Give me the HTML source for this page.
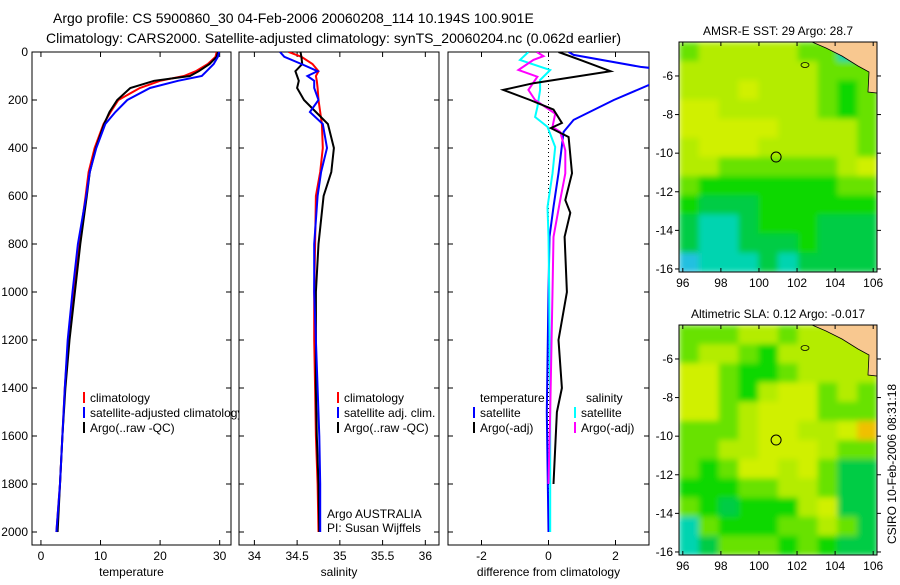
<!DOCTYPE html>
<html><head><meta charset="utf-8"><style>
body{margin:0;background:#fff;width:900px;height:580px;overflow:hidden;font-family:"Liberation Sans",sans-serif}
svg text{font-family:"Liberation Sans",sans-serif}
</style></head><body>
<svg id="s" width="900" height="580" viewBox="0 0 900 580" xmlns="http://www.w3.org/2000/svg">
<defs><filter id="bl" x="0" y="0" width="1" height="1"><feGaussianBlur stdDeviation="3"/></filter>
<clipPath id="mc1"><rect x="679" y="42" width="198" height="230"/></clipPath>
<clipPath id="mc2"><rect x="679" y="325" width="198" height="230"/></clipPath></defs>
<text x="53" y="23" font-size="14">Argo profile: CS 5900860_30 04-Feb-2006 20060208_114 10.194S 100.901E</text>
<text x="46" y="43" font-size="14">Climatology: CARS2000. Satellite-adjusted climatology: synTS_20060204.nc (0.062d earlier)</text>
<g id="g"></g>
</svg>
<script>
const depths=[0,20,50,80,100,120,150,200,250,300,400,500,600,800,1000,1200,1400,1600,1800,2000];
const tempClim=[29.5,29.3,28.0,26,24,20,16.6,13,11.7,10.5,9,8,7.5,6.4,5.5,4.6,4,3.6,3.2,2.6];
const tempArgo=[29.7,29.5,28.3,26.5,25,19,15,12.8,11.5,10.6,9.2,8.2,7.7,6.6,5.7,4.8,4.1,3.6,3.2,2.8];
const tempSat=[29.9,29.7,29,27.8,27,23,18.3,14.5,12.5,10.8,9.3,8.2,7.6,6.2,5.3,4.5,4,3.6,3.2,2.6];
const salClim=[34.40,34.55,34.68,34.75,34.72,34.73,34.74,34.75,34.77,34.79,34.80,34.77,34.72,34.71,34.70,34.70,34.71,34.72,34.74,34.75];
const salArgo=[34.54,34.55,34.56,34.48,34.5,34.52,34.50,34.58,34.72,34.86,34.93,34.90,34.81,34.75,34.72,34.72,34.72,34.73,34.75,34.76];
const salSat=[34.30,34.35,34.55,34.74,34.62,34.70,34.70,34.75,34.65,34.80,34.85,34.78,34.74,34.70,34.70,34.72,34.74,34.76,34.77,34.77];
const dTArgoDepth=[0,33,80,130,158,200,240,296,317,354,505,617,670,770,1000,1200,1400,1500,1800];
const dTArgo=[0.3,0.95,1.85,-0.45,-1.35,-0.55,0.15,0.4,0.07,0.6,0.7,0.5,0.65,0.48,0.55,0.3,0.4,0.25,0.15];
const dTSatDepth=[0,12,62,75,120,137,200,283,333,505,645,770,1000,1500,2000];
const dTSat=[0.6,0.75,2.75,3.6,3.6,3.0,1.95,0.75,0.45,0.3,0.15,0.03,0.0,-0.05,0.0];
const dSSatDepth=[0,33,75,117,158,229,271,312,396,506,646,771,1000,1500,2000];
const dSSat=[-0.6,-0.85,0.05,-0.25,-0.25,-0.33,-0.4,-0.03,0.2,0.12,-0.03,0.0,0.02,0.05,0.05];
const dSArgoDepth=[0,17,33,75,103,158,200,257,312,333,410,506,617,771,1000,1500,1800];
const dSArgo=[-0.35,-0.15,-0.45,-0.9,-0.33,-0.6,-0.4,0.2,0.12,0.35,0.5,0.5,0.35,0.15,0.12,0.05,0.0];
const depthTicks=[0,200,400,600,800,1000,1200,1400,1600,1800,2000];
const tempTicks=[0,10,20,30];
const salTicks=[34,34.5,35,35.5,36];
const diffTicks=[-2,0,2];
const lonTicks=[96,98,100,102,104,106];
const latTicks=[-6,-8,-10,-12,-14,-16];
const floatLon=100.9, floatLat=-10.2;

const NS="http://www.w3.org/2000/svg";
const G=document.getElementById('g');
function el(t,a,p){const e=document.createElementNS(NS,t);for(const k in a)e.setAttribute(k,a[k]);(p||G).appendChild(e);return e;}
const Y0=52,Ybot=545;
const yD=d=>Y0+d*0.24;
function panel(name,x0,x1,xmin,xmax,ticks,label){
  const sx=v=>x0+(v-xmin)/(xmax-xmin)*(x1-x0);
  const g=el('g',{});
  
  
  el('rect',{x:x0,y:Y0,width:x1-x0,height:Ybot-Y0,fill:'#fff',stroke:'#000','stroke-width':1},g);
  ticks.forEach(t=>{const x=sx(t);
    el('line',{x1:x,x2:x,y1:Y0,y2:Y0+5,stroke:'#000'},g);
    el('line',{x1:x,x2:x,y1:Ybot,y2:Ybot-5,stroke:'#000'},g);
    const tx=el('text',{x:x,y:Ybot+15,'font-size':12,'text-anchor':'middle'},g);tx.textContent=String(t);
    
    
  });
  depthTicks.forEach(d=>{const y=yD(d);
    el('line',{x1:x0,x2:x0+5,y1:y,y2:y,stroke:'#000'},g);
    el('line',{x1:x1,x2:x1-5,y1:y,y2:y,stroke:'#000'},g);
  });
  const lb=el('text',{x:(x0+x1)/2,y:576,'font-size':12,'text-anchor':'middle'},g);lb.textContent=label;
  
  
  return {sx,g,x0,x1};
}
function line(P,ds,vs,color,name,w){
  const pts=ds.map((d,i)=>P.sx(vs[i]).toFixed(1)+','+yD(d).toFixed(1)).join(' ');
  const l=el('polyline',{points:pts,fill:'none',stroke:color,'stroke-width':w||2,'clip-path':'url(#'+P.clip+')'},P.g);
  
  
}
function clip(id,x0,x1){const defs=el('defs',{});const c=el('clipPath',{id:id},defs);el('rect',{x:x0,y:Y0,width:x1-x0,height:Ybot-Y0},c);}
function txt(x,y,s,name,size,anchor,parent){const t=el('text',{x:x,y:y,'font-size':size||12,'text-anchor':anchor||'start'},parent);t.textContent=s;
  
  return t;}
function leg(x,y,color,s,name){el('rect',{x:x,y:y-10,width:2,height:11,fill:color});txt(x+7,y,s,name);}

depthTicks.forEach(d=>txt(28,yD(d)+4,String(d),'y-tick-label',12,'end'));

const P1=panel('temperature-panel',32,231,-1.5,31.9,tempTicks,'temperature');P1.clip='c1';clip('c1',32,231);
line(P1,depths,tempClim,'#f00','temp-climatology-line');
line(P1,depths,tempArgo,'#000','temp-argo-line');
line(P1,depths,tempSat,'#00f','temp-satellite-line');
leg(83,402,'#f00','climatology','legend-climatology');
leg(83,417,'#00f','satellite-adjusted climatology','legend-satellite');
leg(83,432,'#000','Argo(..raw -QC)','legend-argo');

const P2=panel('salinity-panel',239,439,33.82,36.16,salTicks,'salinity');P2.clip='c2';clip('c2',239,439);
line(P2,depths,salClim,'#f00','sal-climatology-line');
line(P2,depths,salArgo,'#000','sal-argo-line');
line(P2,depths,salSat,'#00f','sal-satellite-line');
leg(337,402,'#f00','climatology','legend-climatology');
leg(337,417,'#00f','satellite adj. clim.','legend-satellite');
leg(337,432,'#000','Argo(..raw -QC)','legend-argo');
txt(327,518,'Argo AUSTRALIA','agency-note');
txt(327,532,'PI: Susan Wijffels','pi-note');

const P3=panel('difference-panel',448,649,-3,3,diffTicks,'difference from climatology');P3.clip='c3';clip('c3',448,649);
el('line',{x1:P3.sx(0),x2:P3.sx(0),y1:Y0,y2:yD(2000),stroke:'#000','stroke-dasharray':'1,3'},P3.g);
line(P3,dTSatDepth,dTSat,'#00f','temp-diff-satellite-line',2);
line(P3,dSSatDepth,dSSat,'#0ff','sal-diff-satellite-line',2);
line(P3,dSArgoDepth,dSArgo,'#f0f','sal-diff-argo-line',2);
line(P3,dTArgoDepth,dTArgo,'#000','temp-diff-argo-line',2);
txt(480,402,'temperature','legend-temperature-header');
txt(586,402,'salinity','legend-salinity-header');
leg(473,417,'#00f','satellite','legend-temp-satellite');
leg(473,432,'#000','Argo(-adj)','legend-temp-argo');
leg(574,417,'#0ff','satellite','legend-sal-satellite');
leg(574,432,'#f0f','Argo(-adj)','legend-sal-argo');

const C={Y:'#d0f000',y:'#b4ec00',g:'#68e200',G:'#10d800',d:'#00cc44',c:'#00d4b0',C:'#20c0e0',o:'#f0c000'};
const grid1=["gyyyyyggcg","yyyyyyyggg","yyyYyyygGg","YYyyyyygGg","YYYYYyyyyg","yYYYyyyyyg","yyggggggyY","gGGGGGGGgg","GdddGGGGGG","dccdGGGddd","dccdddGddd","Ccccdcdddd"];
const grid2=["gggyygyyyy","gyygGyyyyy","YYgGGgyyyy","YYgGyYYgyg","YYgyYYYggg","gggyYYyyYo","ggyyYYYygg","gGgYYyYgdd","GGGggyygdd","gGdGGGyYdd","cgGGGggygd","cdgggGgGdd"];
function map(name,top,grid,title,cid){
  const x0=679,x1=877,y1=top+230,lonMin=95.8,lonMax=106.2,latTop=-4.24;
  const sx=v=>x0+(v-lonMin)/(lonMax-lonMin)*(x1-x0);
  const sy=v=>top+(latTop-v)*19.3;
  const g=el('g',{});
  
  
  const cw=(x1-x0)/10,ch=(y1-top)/12;
  const cg=el('g',{'clip-path':'url(#'+cid+')'},g);
  const bg=el('g',{filter:'url(#bl)'},cg);
  grid.forEach((r,i)=>[...r].forEach((k,j)=>el('rect',{x:x0+j*cw,y:top+i*ch,width:cw+0.6,height:ch+0.6,fill:C[k]},bg)));
  const oy=top-42;
  const land=el('polygon',{points:`812,${42+oy} 877,${42+oy} 877,${93+oy} 868,${92+oy} 869,${72+oy} 858,${66+oy} 842,${56+oy} 826,${48+oy}`,fill:'#f8c890',stroke:'#000','stroke-width':0.8},g);
  
  
  el('ellipse',{cx:805,cy:65+oy,rx:4,ry:2.5,fill:'none',stroke:'#000','stroke-width':0.8},g);
  el('rect',{x:x0,y:top,width:x1-x0,height:y1-top,fill:'none',stroke:'#000'},g);
  const m=el('circle',{cx:sx(floatLon),cy:sy(floatLat),r:5,fill:'none',stroke:'#000','stroke-width':1},g);
  
  
  lonTicks.forEach(t=>{const x=sx(t);el('line',{x1:x,x2:x,y1:top,y2:top+4,stroke:'#000'},g);el('line',{x1:x,x2:x,y1:y1,y2:y1-4,stroke:'#000'},g);txt(x,y1+15,String(t),'lon-tick-label',12,'middle',g);});
  latTicks.forEach(t=>{const y=sy(t);el('line',{x1:x0-4,x2:x0,y1:y,y2:y,stroke:'#000'},g);el('line',{x1:x1,x2:x1+4,y1:y,y2:y,stroke:'#000'},g);txt(x0-6,y+4,String(t),'lat-tick-label',12,'end',g);});
  txt(778,top-7,title,'map-title',12,'middle',g);
}
map('sst-map',42,grid1,'AMSR-E SST: 29 Argo: 28.7','mc1');
map('sla-map',325,grid2,'Altimetric SLA: 0.12 Argo: -0.017','mc2');
const side=txt(0,0,'CSIRO 10-Feb-2006 08:31:18','timestamp',12,'middle');
side.setAttribute('transform','translate(896,464) rotate(-90)');
</script>
</body></html>
